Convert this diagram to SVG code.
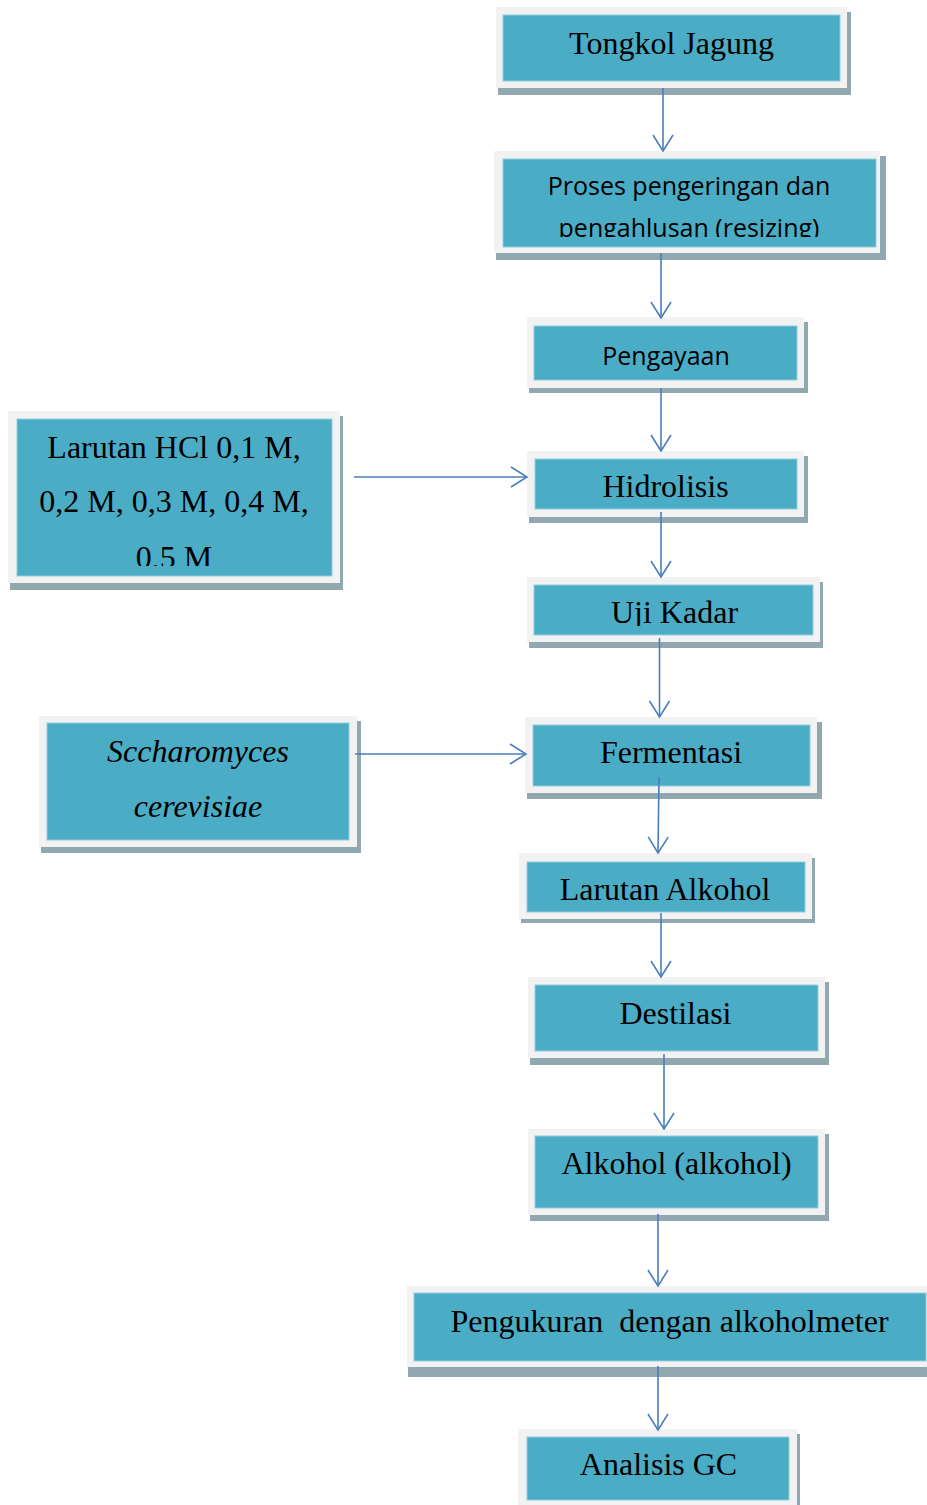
<svg xmlns="http://www.w3.org/2000/svg" width="927" height="1505" viewBox="0 0 927 1505">
<style>
.frame{fill:#f2f2f2}
.shadow{fill:#92a8b1}
.inner{fill:#4bacc6;stroke:#93cddd;stroke-width:1}
.serif{font-family:"Liberation Serif","Times New Roman",serif;font-size:32px;fill:#000;text-anchor:middle}
.it{font-style:italic}
.sans{font-family:"Open Sans","Liberation Sans",sans-serif;font-size:25px;fill:#000;text-anchor:middle}
.conn{stroke:#4a7ebb;stroke-width:1.6;fill:none}
</style>
<defs>
<marker id="ah" markerUnits="userSpaceOnUse" markerWidth="24" markerHeight="24" viewBox="-18 -12 20 24" refX="0" refY="0" orient="auto">
<path d="M-16,-10 L0,0 L-16,10" fill="none" stroke="#4a7ebb" stroke-width="1.6"/>
</marker>
<clipPath id="c2"><rect x="503" y="159" width="373" height="78"/></clipPath>
<clipPath id="c5"><rect x="17" y="419" width="315" height="147"/></clipPath>
<clipPath id="c6"><rect x="534" y="585" width="279" height="41"/></clipPath>
</defs>
<rect width="927" height="1505" fill="#fff"/>

<g id="n1">
<rect class="shadow" x="498" y="12" width="353" height="83"/>
<rect class="frame" x="496" y="7" width="351" height="81"/>
<rect class="inner" x="503" y="15" width="337" height="66"/>
<text class="serif" x="671.5" y="54">Tongkol Jagung</text>
</g>

<g id="n2">
<rect class="shadow" x="496" y="156" width="390" height="104"/>
<rect class="frame" x="494" y="151" width="386" height="102"/>
<rect class="inner" x="503" y="159" width="373" height="88"/>
<g clip-path="url(#c2)">
<text class="sans" x="689" y="195">Proses pengeringan dan</text>
<text class="sans" x="689" y="237">pengahlusan (resizing)</text>
</g>
</g>

<g id="n3">
<rect class="shadow" x="529" y="322" width="279" height="71"/>
<rect class="frame" x="527" y="317" width="277" height="71"/>
<rect class="inner" x="534" y="326" width="263" height="54"/>
<text class="sans" x="666" y="365">Pengayaan</text>
</g>

<g id="n4">
<rect class="shadow" x="529" y="456" width="279" height="67"/>
<rect class="frame" x="527" y="451" width="277" height="66"/>
<rect class="inner" x="535" y="459" width="262" height="50"/>
<text class="serif" x="665.5" y="497">Hidrolisis</text>
</g>

<g id="n5">
<rect class="shadow" x="10" y="416" width="333" height="174"/>
<rect class="frame" x="8" y="411" width="332" height="172"/>
<rect class="inner" x="17" y="419" width="315" height="157"/>
<g clip-path="url(#c5)">
<text class="serif" x="174" y="458">Larutan HCl 0,1 M,</text>
<text class="serif" x="174" y="512">0,2 M, 0,3 M, 0,4 M,</text>
<text class="serif" x="174" y="568">0,5 M</text>
</g>
</g>

<g id="n6">
<rect class="shadow" x="529" y="582" width="294" height="66"/>
<rect class="frame" x="527" y="577" width="293" height="65"/>
<rect class="inner" x="534" y="585" width="279" height="50"/>
<g clip-path="url(#c6)">
<text class="serif" x="674.5" y="623">Uji Kadar</text>
</g>
</g>

<g id="n7">
<rect class="shadow" x="41" y="721" width="320" height="132"/>
<rect class="frame" x="39" y="716" width="318" height="131"/>
<rect class="inner" x="47" y="723" width="302" height="117"/>
<text class="serif it" x="198" y="762">Sccharomyces</text>
<text class="serif it" x="198" y="817">cerevisiae</text>
</g>

<g id="n8">
<rect class="shadow" x="527" y="722" width="295" height="77"/>
<rect class="frame" x="525" y="717" width="292" height="76"/>
<rect class="inner" x="533" y="725" width="277" height="61"/>
<text class="serif" x="671" y="763">Fermentasi</text>
</g>

<g id="n9">
<rect class="shadow" x="521" y="858" width="294" height="65"/>
<rect class="frame" x="519" y="853" width="293" height="66"/>
<rect class="inner" x="527" y="862" width="278" height="50"/>
<text class="serif" x="665" y="900">Larutan Alkohol</text>
</g>

<g id="n10">
<rect class="shadow" x="530" y="982" width="299" height="83"/>
<rect class="frame" x="528" y="977" width="297" height="81"/>
<rect class="inner" x="535" y="985" width="283" height="66"/>
<text class="serif" x="675.5" y="1024">Destilasi</text>
</g>

<g id="n11">
<rect class="shadow" x="530" y="1134" width="299" height="87"/>
<rect class="frame" x="528" y="1129" width="297" height="86"/>
<rect class="inner" x="535" y="1136" width="283" height="72"/>
<text class="serif" x="676.5" y="1174">Alkohol (alkohol)</text>
</g>

<g id="n12">
<rect class="shadow" x="408" y="1291" width="524" height="86"/>
<rect class="frame" x="407" y="1286" width="525" height="81"/>
<rect class="inner" x="414" y="1293" width="512" height="68"/>
<text class="serif" x="669.5" y="1332" xml:space="preserve">Pengukuran  dengan alkoholmeter</text>
</g>

<g id="n13">
<rect class="shadow" x="520" y="1434" width="280" height="80"/>
<rect class="frame" x="518" y="1429" width="279" height="80"/>
<rect class="inner" x="527" y="1437" width="262" height="63"/>
<text class="serif" x="658.5" y="1475">Analisis GC</text>
</g>

<g id="connectors">
<line class="conn" x1="663" y1="88" x2="663" y2="151" marker-end="url(#ah)"/>
<line class="conn" x1="661" y1="253" x2="661" y2="318" marker-end="url(#ah)"/>
<line class="conn" x1="661" y1="388" x2="661" y2="451" marker-end="url(#ah)"/>
<line class="conn" x1="661" y1="512" x2="661" y2="577" marker-end="url(#ah)"/>
<line class="conn" x1="659.5" y1="638" x2="659.5" y2="717" marker-end="url(#ah)"/>
<line class="conn" x1="659" y1="777" x2="658" y2="853" marker-end="url(#ah)"/>
<line class="conn" x1="661" y1="913" x2="661" y2="977" marker-end="url(#ah)"/>
<line class="conn" x1="664" y1="1054" x2="664" y2="1129" marker-end="url(#ah)"/>
<line class="conn" x1="658" y1="1214" x2="658" y2="1286" marker-end="url(#ah)"/>
<line class="conn" x1="658" y1="1366" x2="658" y2="1430" marker-end="url(#ah)"/>
<line class="conn" x1="354" y1="477" x2="527" y2="477" marker-end="url(#ah)"/>
<line class="conn" x1="355" y1="754" x2="526" y2="754" marker-end="url(#ah)"/>
</g>
</svg>
